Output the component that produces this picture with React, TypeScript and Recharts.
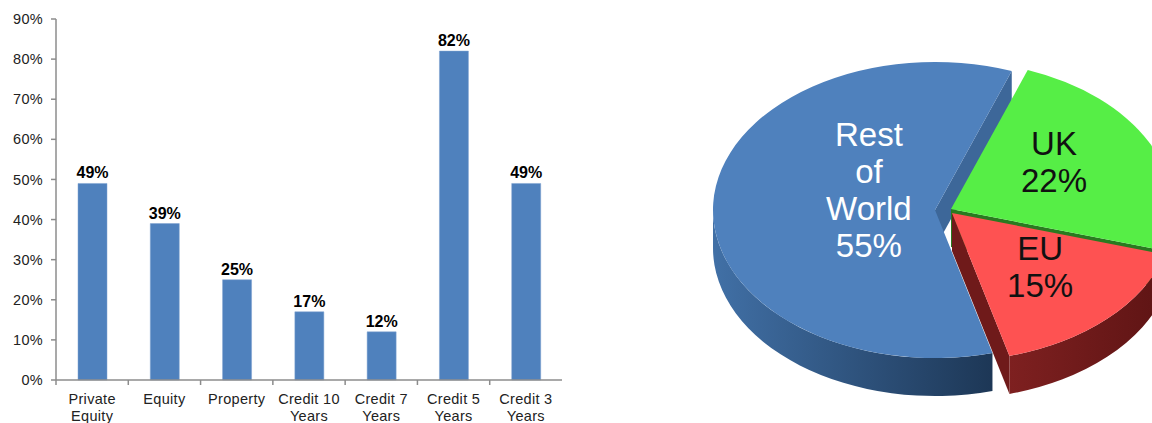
import React from "react";
import {
  BarChart,
  Bar,
  XAxis,
  YAxis,
  LabelList,
  PieChart,
  Pie,
} from "recharts";

// bar chart data
const categories = [
  "Private Equity",
  "Equity",
  "Property",
  "Credit 10 Years",
  "Credit 7 Years",
  "Credit 5 Years",
  "Credit 3 Years",
];
const shares = [49, 39, 25, 17, 12, 82, 49];
const yTicks = [0, 10, 20, 30, 40, 50, 60, 70, 80, 90];

// pie data (drawn back to front)
const regions = ["Rest of World", "UK", "EU"];
const regionShares = [55, 22, 15];

const barData = categories.map((name, i) => ({ name, value: shares[i] }));
const pieData = regions.map((name, i) => ({ name, value: regionShares[i] }));

const FONT = "'Liberation Sans', Arial, sans-serif";
const AXIS = "#8c8c8c";

const BAR_W = 580;
const BAR_MARGIN = { top: 19, right: 18, bottom: 0, left: 0 };
const Y_W = 56;
const BAND = (BAR_W - BAR_MARGIN.left - BAR_MARGIN.right - Y_W) / categories.length;

function CategoryTick(props: any) {
  const { x, y, payload } = props;
  const words = String(payload.value).split(" ");
  const lines =
    words.length > 2 ? [words.slice(0, 2).join(" "), words.slice(2).join(" ")] : words.length === 2 ? words : [words[0]];
  return (
    <g>
      <line x1={x - BAND / 2} x2={x - BAND / 2} y1={y} y2={y + 5} stroke={AXIS} strokeWidth={1.5} />
      {lines.map((l, i) => (
        <text
          key={i}
          x={x}
          y={y + 24 + i * 17}
          textAnchor="middle"
          fontSize={14.5}
          fontFamily={FONT}
          fill="#222"
          letterSpacing={0.3}
        >
          {l}
        </text>
      ))}
    </g>
  );
}

// 3D pie geometry
const RX = 222;
const RY = 148;
const DEPTH = 38;
const RAD = Math.PI / 180;

const TOP = ["#4f81bd", "#56ee46", "#fe5252"];
const WALL_A = ["#4170a6", "#2f8a26", "#7e2020"];
const WALL_B = ["#1d3756", "#236b1c", "#5e1414"];
const FACE = ["#3d6799", "#2a7a20", "#6f1a1a"];
const LABEL_COLOR = ["#ffffff", "#111111", "#111111"];
const LABEL_R = [0.28, 0.55, 0.6];
const LABEL_SHIFT = [
  [-4, -18],
  [-6, -10],
  [-5, -10],
];

function offsetFor(index: number) {
  if (index === 0) return [0, 0];
  if (index === 1) return [16, -1];
  return [17, 3];
}

function Slice3D(props: any) {
  const { cx, cy, startAngle, endAngle, outerRadius, index } = props;
  const k = RY / RX;
  const r = outerRadius;
  const [ox, oy] = offsetFor(index);
  const X = cx + ox;
  const Y = cy + oy;
  const pt = (deg: number, d = 0) => [X + r * Math.cos(deg * RAD), Y - r * k * Math.sin(deg * RAD) + d];
  const hi = Math.max(startAngle, endAngle);
  const lo = Math.min(startAngle, endAngle);
  const arc = (a1: number, a2: number, d = 0, sweep = 1) => {
    const [x2, y2] = pt(a2, d);
    const large = Math.abs(a1 - a2) > 180 ? 1 : 0;
    return `A ${r} ${r * k} 0 ${large} ${sweep} ${x2} ${y2}`;
  };

  // front-facing part of the outer wall
  const walls: [number, number][] = [];
  for (let s = -720; s <= 720; s += 360) {
    const a = Math.max(lo, 180 + s);
    const b = Math.min(hi, 360 + s);
    if (b > a) walls.push([b, a]);
  }

  const face = (deg: number) => {
    const [px, py] = pt(deg);
    return `M ${X} ${Y} L ${px} ${py} L ${px} ${py + DEPTH} L ${X} ${Y + DEPTH} Z`;
  };
  const faces: number[] = [];
  if (Math.sin((lo - 90) * RAD) < 0) faces.push(lo);
  if (Math.sin((hi + 90) * RAD) < 0) faces.push(hi);

  const [sx, sy] = pt(hi);
  const gid = `wall-${index}`;
  return (
    <g>
      <defs>
        <linearGradient id={gid} x1="0" y1="0" x2="1" y2="0">
          <stop offset="0%" stopColor={WALL_A[index]} />
          <stop offset="100%" stopColor={WALL_B[index]} />
        </linearGradient>
      </defs>
      {faces.map((f) => (
        <path key={`f${f}`} d={face(f)} fill={FACE[index]} />
      ))}
      {walls.map(([a1, a2], i) => {
        const [x1, y1] = pt(a1);
        const [x2b, y2b] = pt(a2, DEPTH);
        return (
          <path
            key={`w${i}`}
            d={`M ${x1} ${y1} ${arc(a1, a2)} L ${x2b} ${y2b} ${arc(a2, a1, DEPTH, 0)} Z`}
            fill={`url(#${gid})`}
          />
        );
      })}
      <path d={`M ${X} ${Y} L ${sx} ${sy} ${arc(hi, lo)} Z`} fill={TOP[index]} />
    </g>
  );
}

function PieLabel(props: any) {
  const { cx, cy, midAngle, outerRadius, index, name, value } = props;
  const [ox, oy] = offsetFor(index);
  const rr = outerRadius * LABEL_R[index];
  const x = cx + ox + LABEL_SHIFT[index][0] + rr * Math.cos(midAngle * RAD);
  const y = cy + oy + LABEL_SHIFT[index][1] - rr * (RY / RX) * Math.sin(midAngle * RAD);
  const lines = index === 0 ? ["Rest", "of", "World", `${value}%`] : [name, `${value}%`];
  const lh = 37;
  const y0 = y - ((lines.length - 1) * lh) / 2;
  return (
    <text textAnchor="middle" fontFamily={FONT} fontSize={33} fill={LABEL_COLOR[index]}>
      {lines.map((l, i) => (
        <tspan key={i} x={x} y={y0 + i * lh} dominantBaseline="central">
          {l}
        </tspan>
      ))}
    </text>
  );
}

export default function App() {
  return (
    <div style={{ position: "absolute", left: 0, top: 0, width: 1152, height: 423, background: "#fff", overflow: "hidden" }}>
      <div style={{ position: "absolute", left: 0, top: 0 }}>
        <BarChart width={BAR_W} height={423} data={barData} margin={BAR_MARGIN} barSize={29}>
          <YAxis
            width={Y_W}
            domain={[0, 90]}
            ticks={yTicks}
            interval={0}
            tickFormatter={(v: number) => `${v}%`}
            tick={{ fontSize: 14.5, fill: "#222", fontFamily: FONT, letterSpacing: 0.3 }}
            tickSize={5}
            tickMargin={8}
            axisLine={{ stroke: AXIS, strokeWidth: 1.5 }}
            tickLine={{ stroke: AXIS, strokeWidth: 1.5 }}
          />
          <XAxis
            dataKey="name"
            interval={0}
            tick={<CategoryTick />}
            tickLine={false}
            tickSize={0}
            tickMargin={0}
            axisLine={{ stroke: AXIS, strokeWidth: 1.5 }}
            height={43}
          />
          <Bar dataKey="value" fill="#4f81bd" stroke="#7fa3d0" strokeWidth={0.5} isAnimationActive={false}>
            <LabelList
              dataKey="value"
              position="top"
              formatter={(v: any) => `${v}%`}
              style={{ fontSize: 16, fontWeight: 700, fill: "#000", fontFamily: FONT }}
            />
          </Bar>
        </BarChart>
      </div>
      <div style={{ position: "absolute", left: 600, top: 0 }}>
        <PieChart width={552} height={423}>
          <Pie
            data={pieData}
            dataKey="value"
            nameKey="name"
            cx={330}
            cy={205}
            outerRadius={RX}
            startAngle={285}
            endAngle={-75}
            stroke="none"
            shape={Slice3D}
            activeShape={Slice3D}
            inactiveShape={Slice3D}
            label={PieLabel}
            labelLine={false}
            isAnimationActive={false}
          />
        </PieChart>
      </div>
    </div>
  );
}
